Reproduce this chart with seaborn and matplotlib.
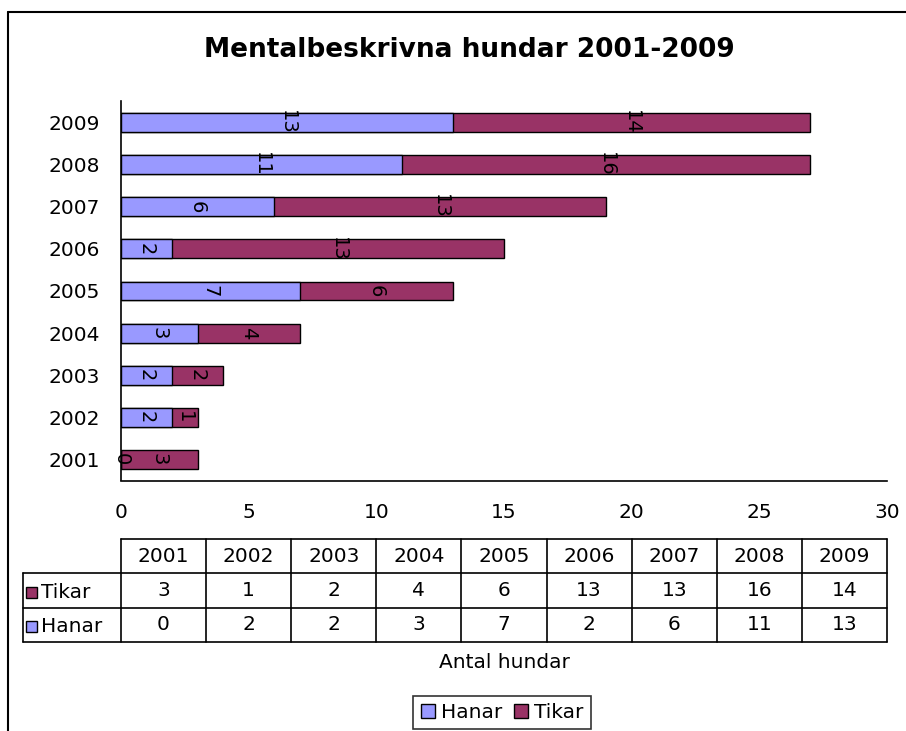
import numpy as np
import pandas as pd
import seaborn as sns
import matplotlib.pyplot as plt
from matplotlib.patches import Rectangle
from matplotlib.lines import Line2D

years = ["2001", "2002", "2003", "2004", "2005", "2006", "2007", "2008", "2009"]
hanar = [0, 2, 2, 3, 7, 2, 6, 11, 13]
tikar = [3, 1, 2, 4, 6, 13, 13, 16, 14]
title = "Mentalbeskrivna hundar 2001-2009"
xlabel = "Antal hundar"

hanar_color = "#9999FF"
tikar_color = "#993366"

W, H = 906, 731

sns.set_style("white")
plt.rcParams["font.family"] = ["DejaVu Sans"]
plt.rcParams["text.color"] = "black"
plt.rcParams["axes.labelcolor"] = "black"
plt.rcParams["xtick.color"] = "black"
plt.rcParams["ytick.color"] = "black"


def fx(x):
    return x / W


def fy(y):
    return 1 - y / H


df = pd.DataFrame({"year": years, "Hanar": hanar, "Tikar": tikar})
df["total"] = df["Hanar"] + df["Tikar"]
order = years[::-1]

fig = plt.figure(figsize=(W / 100, H / 100), dpi=100)
ax = fig.add_axes([fx(121), fy(480.5), fx(887) - fx(121), fy(101.5) - fy(480.5)])

# stacked: totals in Tikar colour, Hanar drawn over it
sns.barplot(data=df, x="total", y="year", order=order, orient="h",
            color=tikar_color, saturation=1, width=0.45,
            edgecolor="black", linewidth=1, ax=ax)
sns.barplot(data=df, x="Hanar", y="year", order=order, orient="h",
            color=hanar_color, saturation=1, width=0.45,
            edgecolor="black", linewidth=1, ax=ax)

for i, yr in enumerate(order):
    row = df[df["year"] == yr].iloc[0]
    ax.text(row["Hanar"] / 2, i, str(row["Hanar"]), rotation=-90,
            ha="center", va="center", fontsize=14, color="black")
    ax.text(row["Hanar"] + row["Tikar"] / 2, i, str(row["Tikar"]),
            rotation=-90, ha="center", va="center", fontsize=14,
            color="black")

ax.set_xlim(0, 30)
ax.set_xticks(range(0, 31, 5))
ax.set_ylim(len(order) - 0.5, -0.5)
ax.set_xlabel("")
ax.set_ylabel("")
for s in ["top", "right"]:
    ax.spines[s].set_visible(False)
for s in ["left", "bottom"]:
    ax.spines[s].set_color("black")
    ax.spines[s].set_linewidth(1.2)
ax.tick_params(axis="x", direction="out", length=4.5, width=1,
               color="black", pad=12, labelsize=14.5)
ax.tick_params(axis="y", length=0, pad=15, labelsize=14.5)

fig.text(fx(469), fy(50), title, ha="center", va="center", fontsize=19,
         fontweight="bold")

# data table below the axis
tab = fig.add_axes([fx(121), fy(642), fx(887) - fx(121), fy(539) - fy(642)])
tab.set_xlim(0, 9)
tab.set_ylim(3, 0)
tab.axis("off")
lw = 1.2
label_left = (23 - 121) / ((887 - 121) / 9)
for r in range(4):
    x0 = 0 if r == 0 else label_left
    tab.add_line(Line2D([x0, 9], [r, r], color="black", lw=lw, clip_on=False))
for c in range(10):
    tab.add_line(Line2D([c, c], [0, 3], color="black", lw=lw, clip_on=False))
tab.add_line(Line2D([label_left, label_left], [1, 3], color="black", lw=lw,
                    clip_on=False))
for c, yr in enumerate(years):
    tab.text(c + 0.5, 0.5, yr, ha="center", va="center", fontsize=14.5)
    tab.text(c + 0.5, 1.5, str(tikar[c]), ha="center", va="center",
             fontsize=14.5)
    tab.text(c + 0.5, 2.5, str(hanar[c]), ha="center", va="center",
             fontsize=14.5)
for r, (name, col) in enumerate([("Tikar", tikar_color), ("Hanar", hanar_color)]):
    fig.patches.append(Rectangle((fx(26), fy(575 + 34 * r + 23)), fx(11), fy(0) - fy(11),
                                 transform=fig.transFigure, facecolor=col,
                                 edgecolor="black", lw=1))
    fig.text(fx(41), fy(575 + 34 * r + 17), name, ha="left", va="center",
             fontsize=14.5)

fig.text(fx(504), fy(662), xlabel, ha="center", va="center", fontsize=14.5)

# legend
handles = [Rectangle((0, 0), 1, 1, facecolor=hanar_color, edgecolor="black"),
           Rectangle((0, 0), 1, 1, facecolor=tikar_color, edgecolor="black")]
leg = fig.legend(handles, ["Hanar", "Tikar"], loc="upper center",
                 bbox_to_anchor=(fx(502), fy(696)), ncol=2, fontsize=14.5,
                 frameon=True, fancybox=False, handlelength=0.7,
                 handleheight=0.7, handletextpad=0.3, columnspacing=0.6,
                 borderpad=0.35, borderaxespad=0)
leg.get_frame().set_edgecolor("black")
leg.get_frame().set_linewidth(1.2)

# outer chart frame (cut off on right and bottom)
fig.add_artist(Line2D([fx(8), fx(8)], [fy(12), -0.1], color="black", lw=1.5,
                      transform=fig.transFigure))
fig.add_artist(Line2D([fx(8), 1.1], [fy(12), fy(12)], color="black", lw=1.5,
                      transform=fig.transFigure))

fig.savefig("out.png", dpi=100)
